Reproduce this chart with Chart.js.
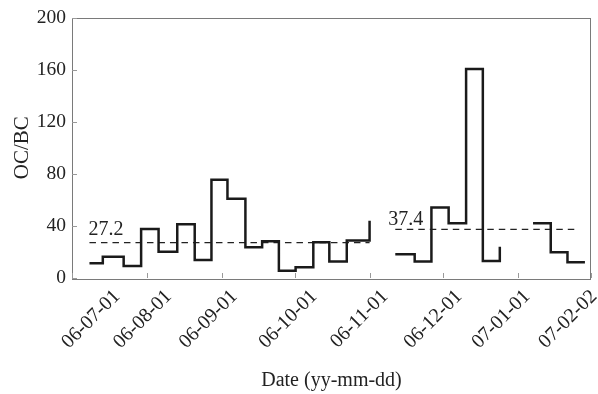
<!DOCTYPE html>
<html><head><meta charset="utf-8">
<script src="https://cdn.jsdelivr.net/npm/chart.js@4.4.1/dist/chart.umd.min.js"></script>
<style>html,body{margin:0;padding:0;background:#fff}#wrap{width:598px;height:394px}</style>
</head><body><div id="wrap"><canvas id="c" width="598" height="394"></canvas></div>
<script>
// x values: days since 2006-07-01
const block1Days = [7.2,12.7,21.3,28.5,35.7,43.4,50.6,57.5,64.1,71.5,78.4,85.3,92.2,99.5,106.1,113.3,122.7];
const block1Ratio = [11.3,16.4,9.2,37.7,20.2,41.3,13.8,75.4,60.8,23.6,28.2,5.6,8.2,27.5,12.6,28.7,44.0];
const block2Days = [133.3,141.3,148.2,155.3,162.5,169.4,176.4];
const block2Ratio = [18.2,12.6,54.1,42.0,160.5,13.0,24.0];
const block3Days = [190.1,197.4,204.3,211.5];
const block3Ratio = [42.0,19.7,12.1,12.1];
const meanValues = [27.2, 37.4];
const meanStartDays = [7.2, 133.3];
const meanEndDays = [122.7, 208.5];
const xTickDays = [0,31,62,92,123,153,184,214];
const xTickLabels = ['06-07-01','06-08-01','06-09-01','06-10-01','06-11-01','06-12-01','07-01-01','07-02-02'];
const yTicks = [0,40,80,120,160,200];

const FONT = '"Liberation Serif", "Times New Roman", serif';
const TXT = '#222';

function blockPoints(days, vals){ return days.map((d,i)=>({x:d,y:vals[i]})); }
const stepData = [].concat(
  blockPoints(block1Days, block1Ratio), [{x:128, y:null}],
  blockPoints(block2Days, block2Ratio), [{x:183, y:null}],
  blockPoints(block3Days, block3Ratio)
);
const meanSets = meanValues.map((m,i)=>({
  data:[{x:meanStartDays[i],y:m},{x:meanEndDays[i],y:m}],
  borderColor:'#222', borderWidth:1.2, borderDash:[6.5,5], pointRadius:0, fill:false
}));

const decor = {
  id:'decor',
  beforeDraw(chart){
    // nudge the rotated x tick labels horizontally as in the reference layout
    const nudge = [35, 11.5, 2, 9, 4.7, 6, -1.2, -7];
    const xs = chart.scales.x;
    const items = xs.getLabelItems(chart.chartArea);
    if (!items._nudged) {
      items.forEach((it,i)=>{ if (it.options && it.options.translation) it.options.translation[0] += (nudge[i]||0); });
      items._nudged = true;
    }
  },
  beforeDatasetsDraw(chart){
    const {ctx, chartArea:a, scales:{x,y}} = chart;
    ctx.save();
    ctx.strokeStyle = '#7a7a7a'; ctx.lineWidth = 1;
    ctx.strokeRect(Math.round(a.left)+0.5, Math.round(a.top)+0.5, Math.round(a.right-a.left)-1, Math.round(a.bottom-a.top));
    ctx.strokeStyle = '#999';
    x.ticks.forEach(t=>{ const px=Math.round(x.getPixelForValue(t.value))+0.5; ctx.beginPath(); ctx.moveTo(px,a.bottom); ctx.lineTo(px,a.bottom-5); ctx.stroke(); });
    y.ticks.forEach(t=>{ const py=Math.round(y.getPixelForValue(t.value))+0.5; ctx.beginPath(); ctx.moveTo(a.left,py); ctx.lineTo(a.left+5,py); ctx.stroke(); });
    ctx.restore();
  },
  afterDatasetsDraw(chart){
    const {ctx, scales:{x,y}} = chart;
    const dx=[-1,-7], dy=[-7.5,-4.5];
    ctx.save();
    ctx.font = '20px ' + FONT; ctx.fillStyle = TXT; ctx.textBaseline='alphabetic'; ctx.textAlign='left';
    meanValues.forEach((m,i)=>ctx.fillText(m.toFixed(1), x.getPixelForValue(meanStartDays[i])+dx[i], y.getPixelForValue(m)+dy[i]));
    ctx.restore();
  }
};

new Chart(document.getElementById('c'), {
  type:'line',
  data:{datasets:[
    {data:stepData, stepped:true, borderColor:'#1a1a1a', borderWidth:2.5, pointRadius:0, spanGaps:false, fill:false},
    ...meanSets
  ]},
  options:{
    responsive:false, animation:false, devicePixelRatio:1,
    layout:{padding:{top:17.5, right:7, left:0, bottom:0}},
    plugins:{legend:{display:false}, tooltip:{enabled:false}},
    scales:{
      x:{type:'linear', min:0, max:214,
        afterBuildTicks:s=>{ s.ticks = xTickDays.map(v=>({value:v})); },
        afterFit:s=>{ s.height = 116; s.paddingLeft=0; s.paddingRight=0; },
        ticks:{autoSkip:false, minRotation:45, maxRotation:45, labelOffset:10, padding:7,
          font:{family:FONT,size:20}, color:TXT,
          callback:(v)=>{ const i=xTickDays.indexOf(v); return i<0?'':xTickLabels[i]; }},
        grid:{display:false, drawTicks:false}, border:{display:false},
        title:{display:true, text:'Date (yy-mm-dd)', font:{family:FONT,size:20}, color:TXT, padding:{top:0,bottom:1}}
      },
      y:{type:'linear', min:0, max:200,
        afterBuildTicks:s=>{ s.ticks = yTicks.map(v=>({value:v})); },
        afterFit:s=>{ s.width = 72; s.paddingTop=0; s.paddingBottom=0; },
        ticks:{padding:6, font:{family:FONT,size:19.5}, color:TXT},
        grid:{display:false, drawTicks:false}, border:{display:false},
        title:{display:true, text:'OC/BC', font:{family:FONT,size:21}, color:TXT, padding:{top:9.5,bottom:0}}
      }
    }
  },
  plugins:[decor]
});
</script></body></html>
